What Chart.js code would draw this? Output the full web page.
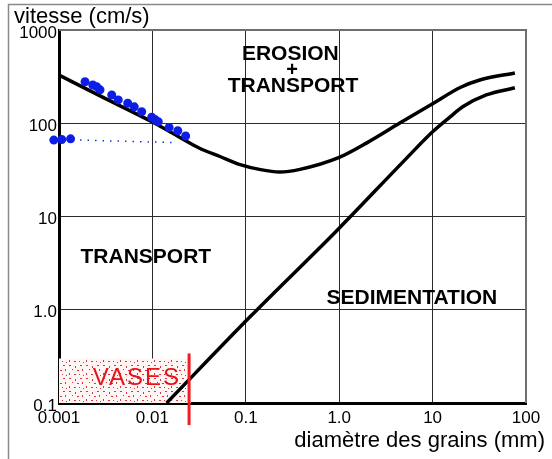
<!DOCTYPE html>
<html>
<head>
<meta charset="utf-8">
<script src="https://cdn.jsdelivr.net/npm/chart.js@4/dist/chart.umd.min.js"></script>
<style>
html,body{margin:0;padding:0;background:#fff;}
#wrap{width:552px;height:459px;position:relative;}
</style>
</head>
<body>
<div id="wrap"><canvas id="c" width="552" height="459"></canvas></div>
<script>
// ---- data ----
const xTickValues = [0.001, 0.01, 0.1, 1, 10, 100];
const xTickLabels = ['0.001', '0.01', '0.1', '1.0', '10', '100'];
const yTickValues = [0.1, 1, 10, 100, 1000];
const yTickLabels = ['0.1', '1.0', '10', '100', '1000'];

const erosionDiameters = [0.001, 0.003, 0.01, 0.02, 0.032, 0.053, 0.087, 0.14, 0.23, 0.38, 1.0, 2.0, 4.5, 10, 20, 32, 76];
const erosionSpeeds    = [329, 188, 103, 70, 54, 44, 36, 32, 30, 32, 43, 62, 101, 162, 243, 291, 346];

const sedimentDiameters = [0.0142, 0.111, 1, 5, 10, 15.4, 21, 37.5, 76];
const sedimentSpeeds    = [0.1, 0.84, 7.5, 40, 81, 117, 150, 201, 240];

const dotDiameters = [0.00088, 0.00107, 0.00133, 0.0019, 0.0023, 0.00253, 0.00275, 0.00367, 0.00431, 0.00544, 0.0064, 0.00768, 0.00983, 0.01066, 0.01156, 0.0151, 0.0187, 0.0227];
const dotSpeeds    = [66, 67, 68, 279, 257, 247, 228, 201, 178, 164, 150, 133, 116, 110, 104, 90, 83, 73];

const dottedDiameters = [0.00168, 0.0175];
const dottedSpeeds    = [66, 62];

const vasesDiameters = [0.001, 0.026];
const vasesSpeeds    = [0.3, 0.3];

const markDiameters = [0.0247, 0.0247];
const markSpeeds    = [0.058, 0.34];

const regionLabels = [
  {text: 'EROSION', x: 0.30, y: 553, bold: true, size: 21, color: '#000'},
  {text: '+', x: 0.313, y: 372, bold: true, size: 20, color: '#000'},
  {text: 'TRANSPORT', x: 0.32, y: 251, bold: true, size: 21, color: '#000'},
  {text: 'TRANSPORT', x: 0.0085, y: 3.68, bold: true, size: 21, color: '#000'},
  {text: 'SEDIMENTATION', x: 6.0, y: 1.34, bold: true, size: 21, color: '#000'},
  {text: 'VASES', x: 0.00667, y: 0.185, bold: false, size: 24, color: '#e3141c', spacing: 2}
];
const yTitle = 'vitesse (cm/s)';
const xTitle = 'diamètre des grains (mm)';

// ---- helpers ----
const zip = (xs, ys) => xs.map((x, i) => ({x: x, y: ys[i]}));
const FONT = '"Liberation Sans", Arial, sans-serif';

function speckle() {
  const c = document.createElement('canvas');
  c.width = 17; c.height = 13;
  const g = c.getContext('2d');
  g.fillStyle = 'rgba(255,246,246,1)';
  g.fillRect(0, 0, 17, 13);
  g.fillStyle = '#e3323a';
  const pts = [[1,1,2,1],[7,2,1,2],[12,1,2,1],[4,5,1,1],[9,6,2,1],[14,5,1,2],[1,9,1,2],[6,10,2,1],[11,10,1,1],[15,11,1,1]];
  pts.forEach(p => g.fillRect(p[0], p[1], p[2], p[3]));
  return document.getElementById('c').getContext('2d').createPattern(c, 'repeat');
}

const decor = {
  id: 'decor',
  beforeDraw(chart) {
    const ctx = chart.ctx;
    ctx.save();
    ctx.fillStyle = '#fff';
    ctx.fillRect(0, 0, chart.width, chart.height);
    ctx.strokeStyle = '#8a8a8a';
    ctx.lineWidth = 1.5;
    ctx.beginPath();
    ctx.moveTo(8.5, chart.height);
    ctx.lineTo(8.5, 4.5);
    ctx.lineTo(chart.width, 4.5);
    ctx.stroke();
    ctx.restore();
  },
  afterDraw(chart) {
    const ctx = chart.ctx, a = chart.chartArea;
    const xs = chart.scales.x, ys = chart.scales.y;
    ctx.save();
    ctx.strokeStyle = '#6e6e6e';
    ctx.lineWidth = 2;
    ctx.beginPath();
    ctx.moveTo(a.left, a.top);
    ctx.lineTo(a.right, a.top);
    ctx.lineTo(a.right, a.bottom);
    ctx.stroke();
    ctx.textAlign = 'center';
    ctx.textBaseline = 'middle';
    regionLabels.forEach(l => {
      ctx.font = (l.bold ? 'bold ' : '') + l.size + 'px ' + FONT;
      ctx.fillStyle = l.color;
      ctx.letterSpacing = (l.spacing || 0) + 'px';
      ctx.fillText(l.text, xs.getPixelForValue(l.x) + (l.spacing || 0) / 2, ys.getPixelForValue(l.y));
    });
    ctx.letterSpacing = '0px';
    ctx.fillStyle = '#000';
    ctx.font = '22px ' + FONT;
    ctx.textAlign = 'left';
    ctx.fillText(yTitle, 14, 17);
    ctx.textAlign = 'right';
    ctx.fillText(xTitle, 545, 441);
    ctx.restore();
  }
};

const gridColor = (edgeValue) => (ctx) => (ctx.tick && Math.abs(ctx.tick.value - edgeValue) / edgeValue < 1e-6) ? 'rgba(0,0,0,0)' : '#2a2a2a';

new Chart(document.getElementById('c'), {
  type: 'line',
  data: {
    datasets: [
      {
        label: 'vases',
        data: zip(vasesDiameters, vasesSpeeds),
        borderWidth: 0,
        borderColor: 'rgba(0,0,0,0)',
        backgroundColor: speckle(),
        fill: 'start',
        pointRadius: 0,
        order: 5
      },
      {
        label: 'erosion',
        data: zip(erosionDiameters, erosionSpeeds),
        borderColor: '#000',
        borderWidth: 3.5,
        pointRadius: 0,
        cubicInterpolationMode: 'monotone',
        fill: false,
        order: 3
      },
      {
        label: 'sedimentation',
        data: zip(sedimentDiameters, sedimentSpeeds),
        borderColor: '#000',
        borderWidth: 3.5,
        pointRadius: 0,
        cubicInterpolationMode: 'monotone',
        fill: false,
        order: 3
      },
      {
        label: 'limite vases',
        data: zip(markDiameters, markSpeeds),
        borderColor: '#ee1c24',
        borderWidth: 3,
        pointRadius: 0,
        fill: false,
        clip: false,
        order: 2
      },
      {
        label: 'pointillé',
        data: zip(dottedDiameters, dottedSpeeds),
        borderColor: '#1a2ee0',
        borderWidth: 1.5,
        borderDash: [1.5, 6],
        pointRadius: 0,
        fill: false,
        order: 2
      },
      {
        type: 'scatter',
        label: 'mesures',
        data: zip(dotDiameters, dotSpeeds),
        showLine: false,
        pointRadius: 3,
        pointBackgroundColor: '#0c1ee6',
        pointBorderColor: '#0c1ee6',
        pointBorderWidth: 3,
        clip: false,
        order: 1
      }
    ]
  },
  options: {
    responsive: false,
    animation: false,
    devicePixelRatio: 1,
    layout: {padding: {top: 30, right: 26, left: 0, bottom: 0}},
    plugins: {legend: {display: false}, tooltip: {enabled: false}},
    scales: {
      x: {
        type: 'logarithmic',
        min: xTickValues[0],
        max: xTickValues[xTickValues.length - 1],
        afterBuildTicks: s => { s.ticks = xTickValues.map(v => ({value: v})); },
        afterFit: s => { s.height = 56; },
        ticks: {
          autoSkip: false, maxRotation: 0,
          callback: (v, i) => xTickLabels[i],
          font: {family: FONT, size: 17}, color: '#000', padding: 5
        },
        grid: {color: gridColor(100), lineWidth: 1, drawTicks: false},
        border: {color: '#000', width: 3}
      },
      y: {
        type: 'logarithmic',
        min: yTickValues[0],
        max: yTickValues[yTickValues.length - 1],
        afterBuildTicks: s => { s.ticks = yTickValues.map(v => ({value: v})); },
        afterFit: s => { s.width = 59; },
        ticks: {
          autoSkip: false,
          callback: (v, i) => yTickLabels[i],
          font: {family: FONT, size: 17}, color: '#000', padding: 2, labelOffset: 3
        },
        grid: {color: gridColor(1000), lineWidth: 1, drawTicks: false},
        border: {color: '#000', width: 3}
      }
    }
  },
  plugins: [decor]
});
</script>
</body>
</html>
